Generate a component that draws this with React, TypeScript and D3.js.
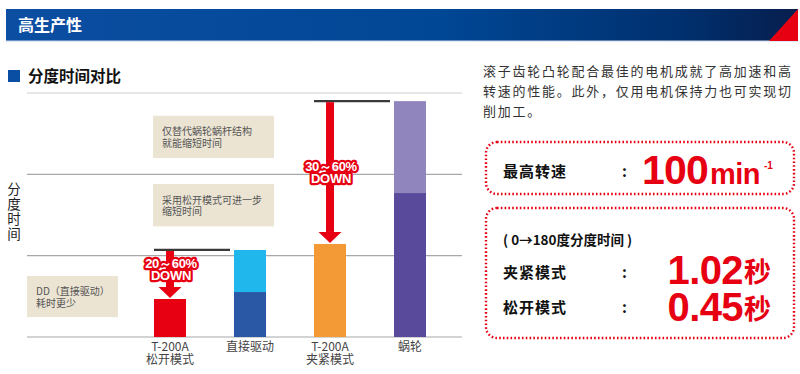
import React from "react";
import * as d3 from "d3";

const categories = ["T-200A|松开模式", "直接驱动", "T-200A|夹紧模式", "蜗轮"];
const lowerValues = [0.467, 0.553, 1.144, 1.77];
const upperValues = [0, 0.517, 0, 1.13];
const lowerColors = ["#e60012", "#2a58a5", "#f39a37", "#594a9b"];
const upperColors = ["none", "#1fb7ec", "none", "#9185bd"];
const gridTicks = [0, 1, 2, 3];
const notes = [
  { lines: ["仅替代蜗轮蜗杆结构", "就能缩短时间"], y0: 2.20, y1: 2.72, x0: 153, x1: 274 },
  { lines: ["采用松开模式可进一步", "缩短时间"], y0: 1.36, y1: 1.88, x0: 153, x1: 274 },
  { lines: ["DD（直接驱动）", "耗时更少"], y0: 0.245, y1: 0.75, x0: 27, x1: 118 },
];
const reductions = [
  { from: 1, to: 0, text: ["20～60%", "DOWN"] },
  { from: 3, to: 2, text: ["30～60%", "DOWN"] },
];
const introLines = [
  "滚子齿轮凸轮配合最佳的电机成就了高加速和高",
  "转速的性能。此外，仅用电机保持力也可实现切",
  "削加工。",
];
const yLabel = "分度时间";
const maxSpeed = "100";
const clampTime = "1.02";
const releaseTime = "0.45";

const CJK = "'Noto Sans CJK SC', 'Noto Sans', sans-serif";
const LAT = "'Liberation Sans', Arial, sans-serif";
const RED = "#e60012";

export default function App() {
  const W = 800, H = 374;
  const x = d3.scaleBand<string>().domain(categories).range([130, 450]).paddingInner(0.6).paddingOuter(0.3);
  const y = d3.scaleLinear().domain([0, 3]).range([337, 93]);
  const bw = x.bandwidth();
  const totals = lowerValues.map((v, i) => v + upperValues[i]);

  return (
    <svg width={W} height={H} style={{ position: "absolute", left: 0, top: 0 }}>
      <defs>
        <linearGradient id="hdr" x1="0" x2="1" y1="0" y2="0">
          <stop offset="0%" stopColor="#0c4ea2" />
          <stop offset="55%" stopColor="#004795" />
          <stop offset="85%" stopColor="#00306f" />
          <stop offset="100%" stopColor="#071e4d" />
        </linearGradient>
      </defs>
      <rect x={0} y={0} width={W} height={H} fill="#fff" />
      {/* header */}
      <rect x={6} y={9} width={792} height={32} fill="url(#hdr)" />
      <line x1={6} x2={798} y1={41} y2={41} stroke="#c8d4e8" strokeWidth={1} />
      <polygon points="769,41 798,9 798,41" fill={RED} />
      <text x={18} y={31} fill="#fff" fontFamily={CJK} fontWeight="bold" fontSize={16}>高生产性</text>

      {/* section title */}
      <rect x={8} y={70} width={12} height={12} fill="#0a4ea3" />
      <text x={28} y={81.5} fill="#111" fontFamily={CJK} fontWeight="bold" fontSize={15.5}>分度时间对比</text>

      {/* grid lines */}
      {gridTicks.map((t, i) => (
        <line key={t} x1={27} x2={462} y1={y(t)} y2={y(t)} stroke={i === gridTicks.length - 1 ? "#cfcfcf" : "#a8a8a8"} strokeWidth={1.2} />
      ))}

      {/* note boxes */}
      {notes.map((n, i) => (
        <g key={i}>
          <rect x={n.x0} y={y(n.y1)} width={n.x1 - n.x0} height={y(n.y0) - y(n.y1)} fill="#ebe4d3" />
          {n.lines.map((l, j) => (
            <text key={j} x={n.x0 + 9} y={(y(n.y1) + y(n.y0)) / 2 - 1.5 + j * 11.5} fill="#555" fontFamily={CJK} fontSize={10}>{l}</text>
          ))}
        </g>
      ))}

      {/* y label (vertical) */}
      <text x={14} y={182} fill="#222" fontFamily={CJK} fontSize={13.5} style={{ writingMode: "vertical-rl" as any }} letterSpacing={1.5} textAnchor="start">{yLabel}</text>

      {/* bars */}
      {categories.map((c, i) => (
        <g key={c}>
          <rect x={x(c)} y={y(lowerValues[i])} width={bw} height={y(0) - y(lowerValues[i])} fill={lowerColors[i]} />
          {upperValues[i] > 0 && (
            <rect x={x(c)} y={y(totals[i])} width={bw} height={y(lowerValues[i]) - y(totals[i])} fill={upperColors[i]} />
          )}
        </g>
      ))}

      {/* reductions */}
      {reductions.map((r, k) => {
        const fromC = categories[r.from];
        const toC = categories[r.to];
        const ly = y(totals[r.from]);
        const ty = y(totals[r.to]);
        const cx = (x(toC) as number) + bw / 2;
        const lx0 = x(toC) as number;
        const lx1 = (x(fromC) as number) - 4;
        const headH = 11;
        const tip = ty - 1;
        return (
          <g key={k}>
            <line x1={lx0} x2={lx1} y1={ly} y2={ly} stroke="#3a3a3a" strokeWidth={2.2} />
            <rect x={cx - 4} y={ly + 1} width={8} height={tip - headH - ly - 1} fill={RED} />
            <polygon points={`${cx - 11.5},${tip - headH} ${cx + 11.5},${tip - headH} ${cx},${tip}`} fill={RED} />
            {r.text.map((t, j) => (
              <text key={j} x={cx + 1} y={(k === 0 ? ly + 18 : 171) + j * 12} textAnchor="middle" fill="#fff" stroke={RED} strokeWidth={4.5} strokeLinejoin="round" style={{ paintOrder: "stroke" }} fontFamily={LAT} fontWeight="bold" fontSize={13} letterSpacing={-0.3}>{t}</text>
            ))}
          </g>
        );
      })}

      {/* x labels */}
      {categories.map((c) => (
        <g key={c}>
          {c.split("|").map((l, j) => (
            <text key={j} x={(x(c) as number) + bw / 2} y={351 + j * 13} textAnchor="middle" fill="#444" fontFamily={CJK} fontSize={12}>{l}</text>
          ))}
        </g>
      ))}

      {/* right side text */}
      {introLines.map((l, i) => (
        <text key={i} x={483} y={75.5 + i * 20} fill="#333" fontFamily={CJK} fontSize={13} letterSpacing={1.75}>{l}</text>
      ))}

      <rect x={486} y={142} width={308} height={52} rx={11} fill="none" stroke={RED} strokeWidth={2.4} strokeDasharray="1.6 2.2" />
      <rect x={486} y={208} width={308} height={130} rx={11} fill="none" stroke={RED} strokeWidth={2.4} strokeDasharray="1.6 2.2" />

      <text x={503} y={177} fill="#111" fontFamily={CJK} fontWeight="bold" fontSize={15} letterSpacing={1}>最高转速</text>
      <text x={622} y={177} fill="#111" fontFamily={CJK} fontWeight="bold" fontSize={15}>:</text>
      <text x={642} y={183.5} fill={RED} fontFamily={LAT} fontWeight="bold" fontSize={41} letterSpacing={-0.8}>{maxSpeed}</text>
      <text x={710} y={183.5} fill={RED} fontFamily={LAT} fontWeight="bold" fontSize={29} letterSpacing={-0.6}>min</text>
      <text x={764} y={169} fill={RED} fontFamily={LAT} fontWeight="bold" fontSize={10}>-1</text>

      <text x={503} y={245} fill="#111" fontFamily={CJK} fontWeight="bold" fontSize={13.5}>( 0→180度分度时间 )</text>
      <text x={503} y={278} fill="#111" fontFamily={CJK} fontWeight="bold" fontSize={15} letterSpacing={1}>夹紧模式</text>
      <text x={622} y={278} fill="#111" fontFamily={CJK} fontWeight="bold" fontSize={15}>:</text>
      <text x={743} y={283.5} textAnchor="end" fill={RED} fontFamily={LAT} fontWeight="bold" fontSize={40} letterSpacing={-0.6}>{clampTime}</text>
      <text x={744} y={282} fill={RED} fontFamily={CJK} fontWeight="bold" fontSize={27}>秒</text>
      <text x={503} y={313} fill="#111" fontFamily={CJK} fontWeight="bold" fontSize={15} letterSpacing={1}>松开模式</text>
      <text x={622} y={313} fill="#111" fontFamily={CJK} fontWeight="bold" fontSize={15}>:</text>
      <text x={743} y={320.5} textAnchor="end" fill={RED} fontFamily={LAT} fontWeight="bold" fontSize={40} letterSpacing={-0.6}>{releaseTime}</text>
      <text x={744} y={319} fill={RED} fontFamily={CJK} fontWeight="bold" fontSize={27}>秒</text>
    </svg>
  );
}
